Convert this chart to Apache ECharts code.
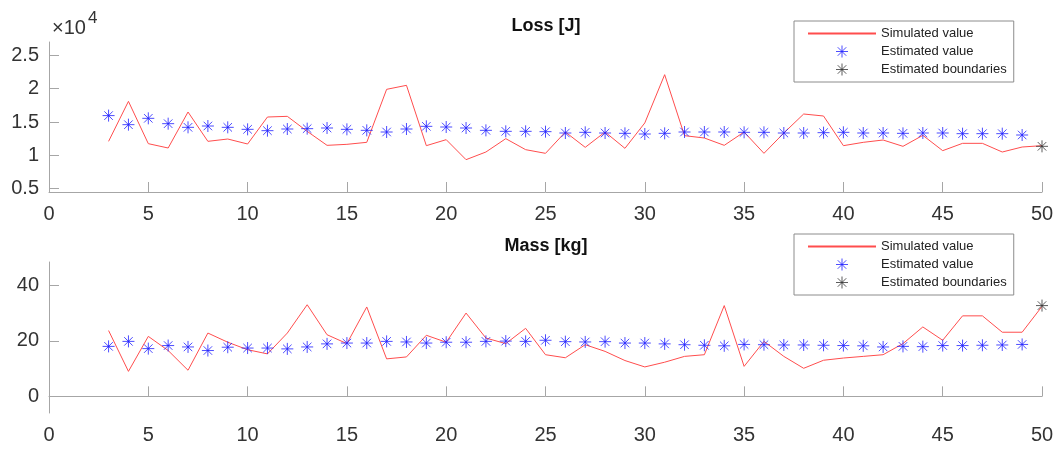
<!DOCTYPE html>
<html>
<head>
<meta charset="utf-8">
<title>Loss / Mass</title>
<script src="https://cdn.jsdelivr.net/npm/echarts@6/dist/echarts.min.js"></script>
<style>
    html, body { margin: 0; padding: 0; background: #fff; }
    #chart { width: 1059px; height: 451px; }
</style>
</head>
<body>
<div id="chart"></div>
<script>
// run numbers (x axis)
const simRuns = [3, 4, 5, 6, 7, 8, 9, 10, 11, 12, 13, 14, 15, 16, 17, 18, 19, 20, 21, 22, 23, 24, 25, 26,
    27, 28, 29, 30, 31, 32, 33, 34, 35, 36, 37, 38, 39, 40, 41, 42, 43, 44, 45, 46, 47, 48, 49, 50];
const estRuns = [3, 4, 5, 6, 7, 8, 9, 10, 11, 12, 13, 14, 15, 16, 17, 18, 19, 20, 21, 22, 23, 24, 25, 26,
    27, 28, 29, 30, 31, 32, 33, 34, 35, 36, 37, 38, 39, 40, 41, 42, 43, 44, 45, 46, 47, 48, 49];
const boundRuns = [50];

// Loss [J]
const lossSim = [12100, 18100, 11750, 11100, 16500, 12100, 12450, 11700, 15750, 15850, 13600, 11500,
    11650, 11950, 19900, 20500, 11450, 12350, 9350, 10500, 12500, 10850, 10300, 13500,
    11200, 13500, 11050, 14860, 22100, 12950, 12600, 11500, 13500, 10300, 13350, 16200,
    15900, 11450, 11950, 12300, 11350, 13000, 10700, 11800, 11800, 10500, 11250, 11450];
const lossEst = [15960, 14600, 15550, 14750, 14200, 14400, 14200, 13900, 13700, 13950, 14000, 14100,
    13900, 13750, 13500, 13950, 14350, 14250, 14100, 13750, 13600, 13600, 13550, 13350,
    13450, 13350, 13300, 13200, 13300, 13500, 13500, 13500, 13450, 13450, 13350, 13350,
    13400, 13450, 13350, 13350, 13300, 13350, 13350, 13250, 13250, 13250, 13050];
const lossBound = [11350];
const lossTicks = [5000, 10000, 15000, 20000, 25000];

// Mass [kg]
const massSim = [23.7, 9.0, 21.6, 16.5, 9.4, 22.8, 19.5, 16.8, 15.3, 22.8, 33.0, 22.2,
    19.0, 32.2, 13.5, 14.2, 22.0, 19.5, 30.0, 21.0, 19.0, 24.5, 15.0, 13.9,
    18.6, 16.2, 12.9, 10.6, 12.3, 14.4, 15.0, 32.7, 10.8, 19.8, 14.4, 10.1,
    13.0, 13.8, 14.4, 15.0, 19.0, 25.0, 20.2, 29.0, 29.0, 23.1, 23.1, 32.4];
const massEst = [18.0, 19.8, 17.2, 18.3, 17.8, 16.5, 17.7, 17.4, 17.4, 17.1, 17.8, 18.9,
    19.2, 19.2, 19.8, 19.6, 19.2, 19.5, 19.5, 19.8, 19.9, 19.8, 20.2, 19.7,
    19.6, 19.7, 19.2, 19.2, 18.9, 18.6, 18.4, 18.2, 18.7, 18.6, 18.5, 18.5,
    18.4, 18.3, 18.2, 17.8, 18.0, 17.9, 18.3, 18.3, 18.4, 18.5, 18.7];
const massBound = [32.7];
const massTicks = [0, 20, 40];

const seriesNames = ['Simulated value', 'Estimated value', 'Estimated boundaries'];

const FONT = '"Liberation Sans", Arial, sans-serif';
const AXIS_GRAY = '#a6a6a6';
// MATLAB style '*' marker
const STAR = 'path://M0,-10L0,10M-10,0L10,0M-7.1,-7.1L7.1,7.1M-7.1,7.1L7.1,-7.1';

function pairs(xs, ys) {
    return xs.map((x, i) => [x, ys[i]]);
}

function xAxisFor(gridIndex) {
    return {
        type: 'value',
        gridIndex: gridIndex,
        min: 0,
        max: 50,
        interval: 5,
        axisLine: { lineStyle: { color: AXIS_GRAY, width: 1 } },
        axisTick: { inside: true, length: 10, lineStyle: { color: AXIS_GRAY } },
        axisLabel: { color: '#333', fontSize: 20, fontFamily: FONT, margin: 12 },
        splitLine: { show: false }
    };
}

function yAxisFor(gridIndex, min, max, ticks, fmt) {
    return {
        type: 'value',
        gridIndex: gridIndex,
        min: min,
        max: max,
        axisLine: { show: true, lineStyle: { color: AXIS_GRAY, width: 1 } },
        axisTick: { show: true, inside: true, length: 10, customValues: ticks, lineStyle: { color: AXIS_GRAY } },
        axisLabel: { color: '#333', fontSize: 20, fontFamily: FONT, margin: 10, customValues: ticks, formatter: fmt },
        splitLine: { show: false }
    };
}

function legendFor(top) {
    return {
        orient: 'vertical',
        left: 794,
        top: top,
        padding: [6, 7, 6, 13],
        itemGap: 5,
        itemWidth: 68,
        itemHeight: 12,
        borderColor: '#8c8c8c',
        borderWidth: 1,
        backgroundColor: '#fff',
        selectedMode: false,
        itemStyle: { borderWidth: 1 },
        data: [
            // plain line sample, no marker
            { name: seriesNames[0], itemStyle: { color: 'rgba(0,0,0,0)', borderWidth: 0 } },
            seriesNames[1],
            seriesNames[2]
        ],
        textStyle: { fontSize: 13, color: '#222', fontFamily: FONT }
    };
}

function seriesFor(idx, sim, est, bound) {
    return [
        {
            name: seriesNames[0],
            type: 'line',
            xAxisIndex: idx,
            yAxisIndex: idx,
            data: pairs(simRuns, sim),
            symbol: 'none',
            lineStyle: { color: '#ff4d4d', width: 1 },
            itemStyle: { color: '#ff4d4d' },
            z: 2
        },
        {
            name: seriesNames[1],
            type: 'scatter',
            xAxisIndex: idx,
            yAxisIndex: idx,
            data: pairs(estRuns, est),
            symbol: STAR,
            symbolSize: 12,
            clip: false,
            itemStyle: { color: '#1f1fff', borderColor: '#1f1fff', borderWidth: 1 },
            z: 3
        },
        {
            name: seriesNames[2],
            type: 'scatter',
            xAxisIndex: idx,
            yAxisIndex: idx,
            data: pairs(boundRuns, bound),
            symbol: STAR,
            symbolSize: 12,
            clip: false,
            itemStyle: { color: '#333', borderColor: '#333', borderWidth: 1 },
            z: 3
        }
    ];
}

const chart = echarts.init(document.getElementById('chart'));

const option = {
    animation: false,
    title: [
        { text: 'Loss [J]', left: 546, top: 17, textAlign: 'center', padding: 0,
          textStyle: { fontSize: 18, fontWeight: 'bold', color: '#111', fontFamily: FONT } },
        { text: 'Mass [kg]', left: 546, top: 237, textAlign: 'center', padding: 0,
          textStyle: { fontSize: 18, fontWeight: 'bold', color: '#111', fontFamily: FONT } },
        // exponent label of the loss axis
        { text: '×10', left: 52, top: 18, padding: 0,
          textStyle: { fontSize: 20, fontWeight: 'normal', color: '#333', fontFamily: FONT } },
        { text: '4', left: 88, top: 10, padding: 0,
          textStyle: { fontSize: 17, fontWeight: 'normal', color: '#333', fontFamily: FONT } }
    ],
    legend: [legendFor(21), legendFor(234)],
    grid: [
        { left: 49, right: 17, top: 42, height: 150 },
        { left: 49, right: 17, top: 262, height: 151 }
    ],
    xAxis: [xAxisFor(0), xAxisFor(1)],
    yAxis: [
        yAxisFor(0, 4500, 27000, lossTicks, v => String(v / 10000)),
        yAxisFor(1, -6, 48.4, massTicks, v => String(v))
    ],
    series: seriesFor(0, lossSim, lossEst, lossBound).concat(seriesFor(1, massSim, massEst, massBound))
};

chart.setOption(option);
</script>
</body>
</html>
